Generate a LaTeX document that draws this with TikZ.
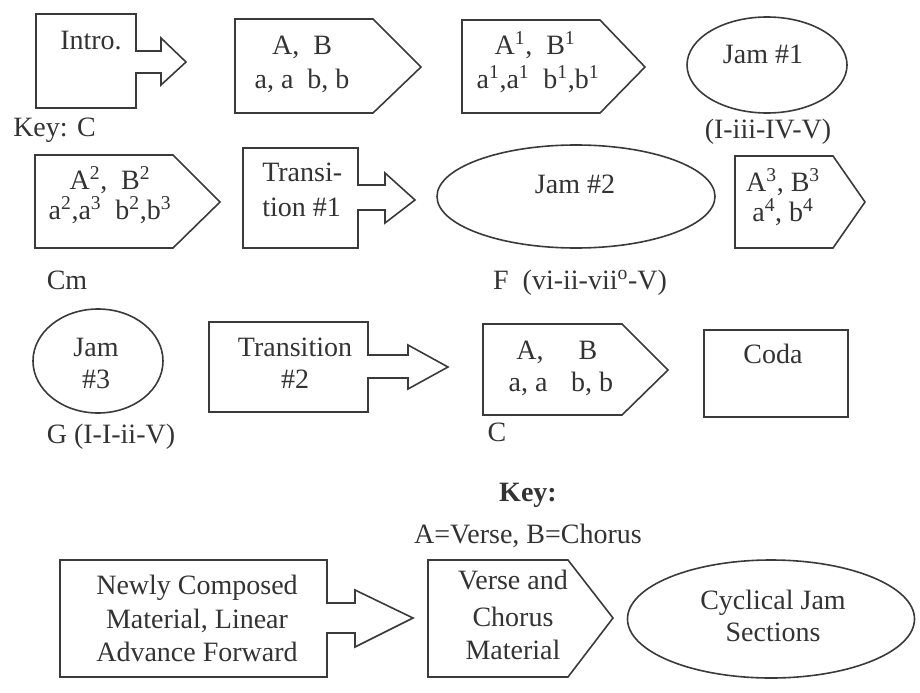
\documentclass[tikz,border=0pt]{standalone}
\usepackage{fontspec}
\setmainfont{Liberation Serif}
\newcommand\diafont{\fontsize{21}{25}\selectfont}
\newcommand\sps[1]{\textsuperscript{#1}}
\definecolor{ink}{HTML}{3A3A3A}
\definecolor{txtc}{HTML}{333333}
\tikzset{
  shp/.style={draw=ink, line width=1.2pt, line join=miter},
  txt/.style={inner sep=0pt, font=\diafont, text=txtc, text height=0.7em, text depth=0.2em, yshift=-2.5pt},
}
\begin{document}
\begin{tikzpicture}[x=0.75pt,y=-0.75pt]
\useasboundingbox (0,0) rectangle (920,692);
% Row 1
\draw[shp] (36,14) -- (136,14) -- (136,51) -- (161,51) -- (161,38) -- (186,62) -- (161,85) -- (161,73) -- (136,73) -- (136,108) -- (36,108) -- cycle;
\node[txt] (intro) at (91,43) {Intro.};
\node[txt, anchor=west] (keyc) at (13,130) {Key: C};
\draw[shp] (235,19) -- (373,19) -- (421,67) -- (373,113) -- (235,113) -- cycle;
\node[txt] (p1a) at (302,48) {A,~~B};
\node[txt] (p1b) at (302,82) {a, a~~b, b};
\draw[shp] (462,20) -- (600,20) -- (645,67) -- (600,113) -- (462,113) -- cycle;
\node[txt] (p2a) at (535,48) {A\sps{1},~~B\sps{1}};
\node[txt] (p2b) at (538,82) {a\sps{1},a\sps{1}~~b\sps{1},b\sps{1}};
\draw[shp] (767,65) ellipse [x radius=80, y radius=48];
\node[txt] (jam1) at (763,57) {Jam \#1};
\node[txt] (jam1l) at (768,132) {(I-iii-IV-V)};
% Row 2
\draw[shp] (35,155) -- (173,155) -- (220,202) -- (173,248) -- (35,248) -- cycle;
\node[txt] (p3a) at (110,183) {A\sps{2},~~B\sps{2}};
\node[txt] (p3b) at (110,213) {a\sps{2},a\sps{3}~~b\sps{2},b\sps{3}};
\node[txt] (cm) at (67,283) {Cm};
\draw[shp] (243,148) -- (358,148) -- (358,185) -- (385,185) -- (385,173) -- (415,200) -- (385,223) -- (385,210) -- (358,210) -- (358,248) -- (243,248) -- cycle;
\node[txt, anchor=west] (t1a) at (262,175) {Transi-};
\node[txt, anchor=west] (t1b) at (262,210) {tion \#1};
\draw[shp] (576,196.5) ellipse [x radius=139, y radius=51.5];
\node[txt] (jam2) at (575,187) {Jam \#2};
\node[txt] (jam2l) at (580,283) {F~~(vi-ii-vii\sps{o}-V)};
\draw[shp] (735,156) -- (833,156) -- (865,202) -- (833,248) -- (735,248) -- cycle;
\node[txt] (p4a) at (783,185) {A\sps{3}, B\sps{3}};
\node[txt] (p4b) at (783,215) {a\sps{4}, b\sps{4}};
% Row 3
\draw[shp] (98,361) ellipse [x radius=65, y radius=52];
\node[txt] (jam3a) at (96,350) {Jam};
\node[txt] (jam3b) at (96,382) {\#3};
\node[txt] (jam3l) at (111,437) {G (I-I-ii-V)};
\draw[shp] (209,322) -- (368,322) -- (368,355) -- (408,355) -- (408,345) -- (448,367) -- (408,389) -- (408,378) -- (368,378) -- (368,412) -- (209,412) -- cycle;
\node[txt] (t2a) at (295,350) {Transition};
\node[txt] (t2b) at (295,382) {\#2};
\draw[shp] (483,324) -- (622,324) -- (668,370) -- (622,415) -- (483,415) -- cycle;
\node[txt] (p5a) at (530,353) {A,};
\node[txt] (p5b) at (588,353) {B};
\node[txt] (p5c) at (528,385) {a, a};
\node[txt] (p5d) at (592,385) {b, b};
\node[txt] (cl) at (497,435) {C};
\draw[shp] (704,330) rectangle (848,417);
\node[txt] (coda) at (773,357) {Coda};
% Key
\node[txt, font=\diafont\bfseries] (key) at (528,495) {Key:};
\node[txt] (keyab) at (528,537) {A=Verse, B=Chorus};
\draw[shp] (60,560) -- (327,560) -- (327,603) -- (355,603) -- (355,590) -- (413,618) -- (355,647) -- (355,633) -- (327,633) -- (327,677) -- (60,677) -- cycle;
\node[txt] (l1a) at (197,588) {Newly Composed};
\node[txt] (l1b) at (197,622) {Material, Linear};
\node[txt] (l1c) at (197,655) {Advance Forward};
\draw[shp] (428,560) -- (568,560) -- (613,618) -- (568,677) -- (428,677) -- cycle;
\node[txt] (l2a) at (513,583) {Verse and};
\node[txt] (l2b) at (513,620) {Chorus};
\node[txt] (l2c) at (513,653) {Material};
\draw[shp] (771,619) ellipse [x radius=143.5, y radius=59];
\node[txt] (l3a) at (773,603) {Cyclical Jam};
\node[txt] (l3b) at (773,635) {Sections};
\end{tikzpicture}
\end{document}
